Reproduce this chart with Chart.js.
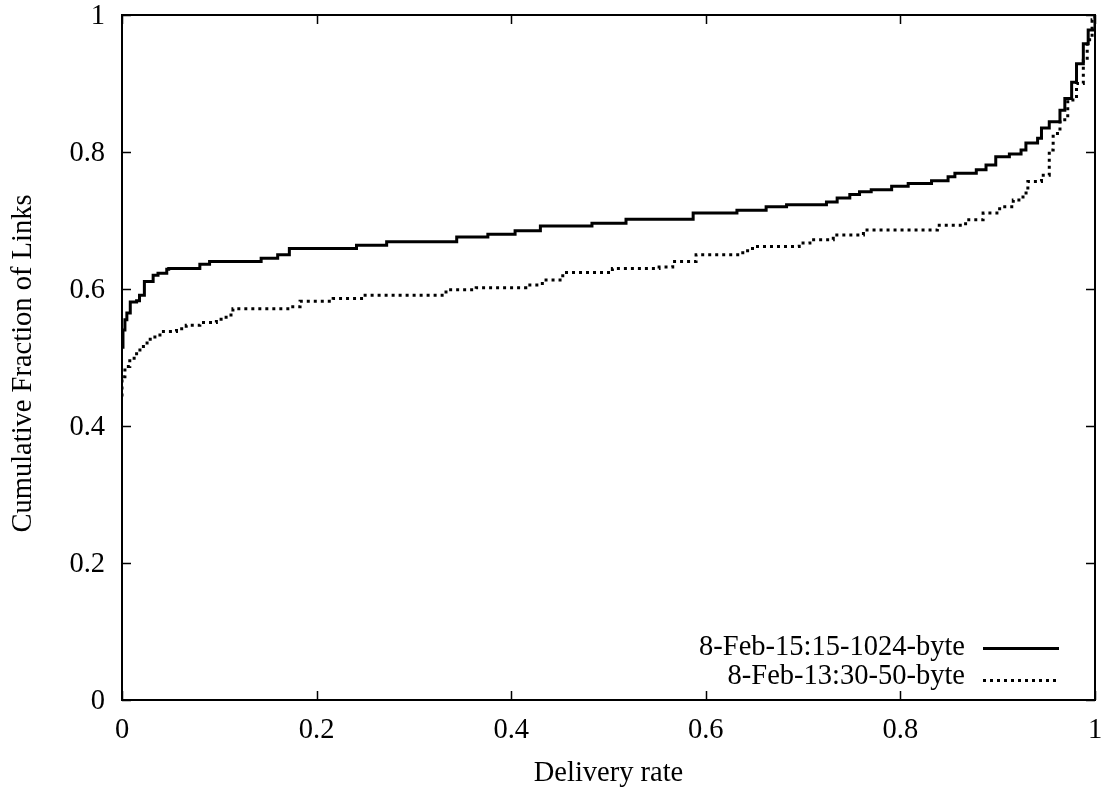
<!DOCTYPE html>
<html>
<head>
<meta charset="utf-8">
<script src="https://cdn.jsdelivr.net/npm/chart.js@4.4.1/dist/chart.umd.min.js"></script>
<style>
html,body{margin:0;padding:0;background:#fff;}
canvas{display:block;}
</style>
</head>
<body>
<canvas id="c" width="1101" height="790"></canvas>
<script>
// ---- data ----
const seriesNames = ['8-Feb-15:15-1024-byte', '8-Feb-13:30-50-byte'];

const rate1024 = [0, 0.001, 0.003, 0.005, 0.0085, 0.015, 0.018, 0.023, 0.032, 0.037, 0.046, 0.048, 0.080, 0.090, 0.143, 0.160, 0.172, 0.241, 0.272, 0.344, 0.376, 0.404, 0.430, 0.483, 0.518, 0.587, 0.632, 0.662, 0.683, 0.724, 0.735, 0.748, 0.758, 0.770, 0.791, 0.808, 0.832, 0.849, 0.856, 0.878, 0.888, 0.898, 0.912, 0.924, 0.929, 0.941, 0.945, 0.953, 0.964, 0.969, 0.976, 0.981, 0.988, 0.993, 1.0];
const frac1024 = [0.515, 0.540, 0.555, 0.565, 0.581, 0.583, 0.591, 0.611, 0.620, 0.623, 0.629, 0.630, 0.636, 0.640, 0.645, 0.650, 0.659, 0.664, 0.669, 0.676, 0.680, 0.685, 0.692, 0.696, 0.702, 0.711, 0.715, 0.720, 0.723, 0.727, 0.733, 0.738, 0.742, 0.745, 0.750, 0.754, 0.758, 0.764, 0.769, 0.774, 0.781, 0.793, 0.797, 0.803, 0.813, 0.820, 0.835, 0.844, 0.861, 0.878, 0.902, 0.929, 0.958, 0.978, 1.0];

const rate50 = [0, 0, 0.003, 0.008, 0.015, 0.022, 0.029, 0.039, 0.056, 0.066, 0.080, 0.097, 0.107, 0.114, 0.172, 0.183, 0.217, 0.248, 0.333, 0.364, 0.415, 0.432, 0.453, 0.504, 0.552, 0.566, 0.590, 0.638, 0.648, 0.696, 0.707, 0.731, 0.762, 0.838, 0.867, 0.885, 0.902, 0.916, 0.926, 0.931, 0.945, 0.953, 0.957, 0.964, 0.972, 0.981, 0.988, 0.992, 0.997, 1.0];
const frac50 = [0.443, 0.472, 0.487, 0.499, 0.511, 0.521, 0.530, 0.538, 0.542, 0.547, 0.551, 0.556, 0.562, 0.571, 0.574, 0.582, 0.586, 0.591, 0.599, 0.602, 0.606, 0.613, 0.624, 0.630, 0.632, 0.640, 0.650, 0.656, 0.662, 0.667, 0.672, 0.679, 0.686, 0.693, 0.701, 0.711, 0.720, 0.730, 0.740, 0.757, 0.766, 0.803, 0.827, 0.847, 0.876, 0.900, 0.934, 0.964, 0.993, 1.0];

const xTicks = [0, 0.2, 0.4, 0.6, 0.8, 1];
const xTickLabels = ['0', '0.2', '0.4', '0.6', '0.8', '1'];
const yTicks = [0, 0.2, 0.4, 0.6, 0.8, 1];
const yTickLabels = ['0', '0.2', '0.4', '0.6', '0.8', '1'];

const xTitle = 'Delivery rate';
const yTitle = 'Cumulative Fraction of Links';

// ---- chart ----
const FONT = "'Liberation Serif', 'Times New Roman', serif";
const FSIZE = 28.5;

const toPts = (xs, ys) => xs.map((x, i) => ({x: x, y: ys[i]}));

const framePlugin = {
  id: 'frame',
  afterDraw(chart) {
    const ctx = chart.ctx;
    const a = chart.chartArea;
    const xs = chart.scales.x, ys = chart.scales.y;
    ctx.save();
    ctx.strokeStyle = '#000';
    ctx.lineWidth = 1.5;
    const TL = 9;
    ctx.beginPath();
    xTicks.forEach(v => {
      const px = Math.round(xs.getPixelForValue(v)) + 0.5;
      ctx.moveTo(px, a.bottom); ctx.lineTo(px, a.bottom - TL);
      ctx.moveTo(px, a.top); ctx.lineTo(px, a.top + TL);
    });
    yTicks.forEach(v => {
      const py = Math.round(ys.getPixelForValue(v)) + 0.5;
      ctx.moveTo(a.left, py); ctx.lineTo(a.left + TL, py);
      ctx.moveTo(a.right, py); ctx.lineTo(a.right - TL, py);
    });
    ctx.stroke();
    ctx.lineWidth = 2;
    ctx.strokeRect(a.left, a.top, a.right - a.left, a.bottom - a.top);

    // titles
    ctx.fillStyle = '#000';
    ctx.font = FSIZE + 'px ' + FONT;
    ctx.textAlign = 'center';
    ctx.textBaseline = 'alphabetic';
    ctx.fillText(xTitle, (a.left + a.right) / 2, 781);
    ctx.save();
    ctx.translate(31, (a.top + a.bottom) / 2 + 6);
    ctx.rotate(-Math.PI / 2);
    ctx.fillText(yTitle, 0, 0);
    ctx.restore();

    // legend
    const rows = [
      {text: seriesNames[0], base: 655, ly: 648, dash: []},
      {text: seriesNames[1], base: 684, ly: 680, dash: [3, 4]}
    ];
    ctx.textAlign = 'right';
    rows.forEach(r => {
      ctx.fillText(r.text, 965, r.base);
      ctx.beginPath();
      ctx.setLineDash(r.dash);
      ctx.lineWidth = 3;
      ctx.moveTo(983, r.ly + 0.5);
      ctx.lineTo(1059, r.ly + 0.5);
      ctx.stroke();
    });
    ctx.setLineDash([]);
    ctx.restore();
  }
};

new Chart(document.getElementById('c'), {
  type: 'line',
  data: {
    datasets: [
      {
        label: seriesNames[0],
        data: toPts(rate1024, frac1024),
        borderColor: '#000',
        borderWidth: 3,
        pointRadius: 0,
        stepped: true,
        fill: false
      },
      {
        label: seriesNames[1],
        data: toPts(rate50, frac50),
        borderColor: '#000',
        borderWidth: 3,
        borderDash: [3, 4],
        pointRadius: 0,
        stepped: true,
        fill: false
      }
    ]
  },
  options: {
    responsive: false,
    devicePixelRatio: 1,
    animation: false,
    layout: {padding: {top: 15, right: 6, left: 0, bottom: 0}},
    plugins: {legend: {display: false}, tooltip: {enabled: false}},
    scales: {
      x: {
        type: 'linear',
        min: 0, max: 1,
        afterBuildTicks: s => { s.ticks = xTicks.map(v => ({value: v})); },
        afterFit: s => { s.height = 90; s.paddingLeft = 0; s.paddingRight = 0; },
        grid: {display: false, drawTicks: false},
        border: {display: false},
        ticks: {
          color: '#000',
          padding: 13,
          maxRotation: 0,
          font: {family: FONT, size: FSIZE},
          callback: (v, i) => xTickLabels[i]
        },
        title: {display: false}
      },
      y: {
        type: 'linear',
        min: 0, max: 1,
        afterBuildTicks: s => { s.ticks = yTicks.map(v => ({value: v})); },
        afterFit: s => { s.width = 122; s.paddingTop = 0; s.paddingBottom = 0; },
        grid: {display: false, drawTicks: false},
        border: {display: false},
        ticks: {
          color: '#000',
          padding: 17,
          labelOffset: 2,
          font: {family: FONT, size: FSIZE},
          callback: (v, i) => yTickLabels[i]
        },
        title: {display: false}
      }
    }
  },
  plugins: [framePlugin]
});
</script>
</body>
</html>
